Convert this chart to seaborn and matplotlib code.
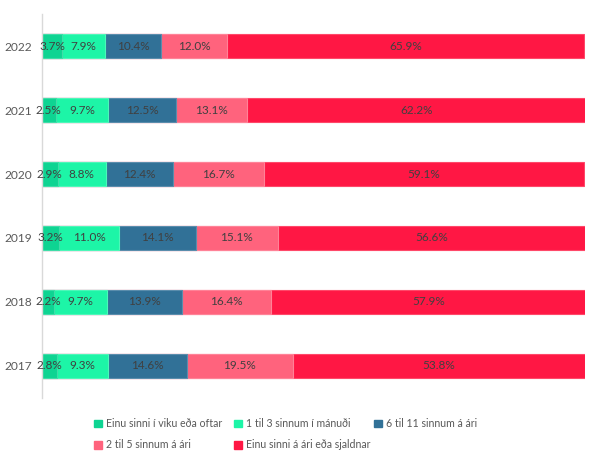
import matplotlib
matplotlib.use("Agg")
import matplotlib.pyplot as plt
import seaborn as sns
import pandas as pd
import numpy as np
from matplotlib.patches import Patch

years = ["2022", "2021", "2020", "2019", "2018", "2017"]
categories = ["Einu sinni í viku eða oftar", "1 til 3 sinnum í mánuði",
              "6 til 11 sinnum á ári", "2 til 5 sinnum á ári",
              "Einu sinni á ári eða sjaldnar"]
weekly = [3.7, 2.5, 2.9, 3.2, 2.2, 2.8]
monthly = [7.9, 9.7, 8.8, 11.0, 9.7, 9.3]
six_eleven = [10.4, 12.5, 12.4, 14.1, 13.9, 14.6]
two_five = [12.0, 13.1, 16.7, 15.1, 16.4, 19.5]
yearly = [65.9, 62.2, 59.1, 56.6, 57.9, 53.8]
colors = ["#0ED492", "#1DF5A7", "#317197", "#FF637D", "#FF1744"]
edge_colors = ["#3FDDA8", "#4DF7B9", "#5A8DAC", "#FF8297", "#FF4869"]

sns.set_theme(style="white")
plt.rcParams['font.family'] = ['Lato', 'DejaVu Sans']

series = [weekly, monthly, six_eleven, two_five, yearly]
df = pd.DataFrame({c: v for c, v in zip(categories, series)}, index=years)
cum = df.cumsum(axis=1)

fig = plt.figure(figsize=(6, 4.61), dpi=100)
ax = fig.add_axes([0.07, 0.1367, 0.905, 0.8329])

for i in range(len(categories) - 1, -1, -1):
    d = pd.DataFrame({"year": years, "val": cum.iloc[:, i].values})
    sns.barplot(data=d, x="val", y="year", orient="h", color=colors[i],
                width=0.39, saturation=1, ax=ax, edgecolor=edge_colors[i],
                linewidth=0.8)

# labels
for j, y in enumerate(years):
    left = 0
    for i, c in enumerate(categories):
        v = df.loc[y, c]
        ax.text(left + v / 2, j, f"{v:.1f}%", ha="center", va="center",
                fontsize=8.5, color="#404040")
        left += v

ax.set_xlim(0, 100)
ax.set_ylim(5.5, -0.5)
ax.set_xlabel("")
ax.set_ylabel("")
ax.set_xticks([])
ax.tick_params(axis="y", length=0, labelsize=8.6, labelcolor="#595959", pad=7)
for s in ["top", "right", "bottom"]:
    ax.spines[s].set_visible(False)
ax.spines["left"].set_color("#D9D9D9")
ax.spines["left"].set_linewidth(1)

# legend laid out row-wise in three equal-width columns
columns = [[0, 3], [1, 4], [2]]
col_x = [0.157, 0.390, 0.623]
for cx, idx in zip(col_x, columns):
    handles = [Patch(facecolor=colors[k], edgecolor=colors[k]) for k in idx]
    leg = fig.legend(handles, [categories[k] for k in idx], loc="upper left",
                     bbox_to_anchor=(cx, 0.093), frameon=False,
                     fontsize=7.6, handlelength=0.75, handleheight=0.75,
                     handletextpad=0.4, labelspacing=0.97,
                     borderaxespad=0, borderpad=0)
    for t in leg.get_texts():
        t.set_color("#595959")

fig.savefig("out.png", dpi=100)
